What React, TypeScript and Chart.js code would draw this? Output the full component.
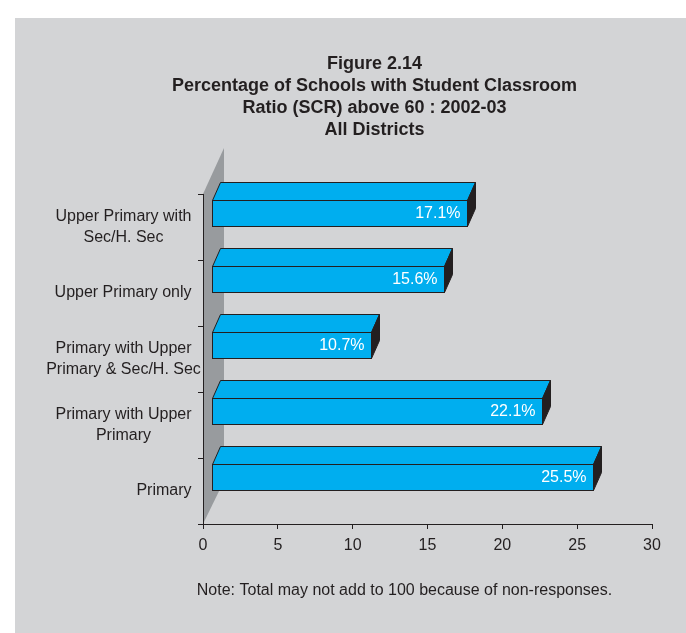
import React, { useEffect, useRef } from "react";
import { Chart, registerables } from "chart.js";

Chart.register(...registerables);

// ---- data ----
const categories: string[][] = [
  ["Upper Primary with", "Sec/H. Sec"],
  ["Upper Primary only"],
  ["Primary with Upper", "Primary & Sec/H. Sec"],
  ["Primary with Upper", "Primary"],
  ["Primary"],
];
const values: number[] = [17.1, 15.6, 10.7, 22.1, 25.5];
const valueLabels: string[] = ["17.1%", "15.6%", "10.7%", "22.1%", "25.5%"];
const xMin = 0;
const xMax = 30;
const xStep = 5;
const titleLines: string[] = [
  "Figure 2.14",
  "Percentage of Schools with Student Classroom",
  "Ratio (SCR) above 60 : 2002-03",
  "All Districts",
];
const noteText = "Note: Total may not add to 100 because of non-responses.";

// ---- styles ----
const FONT = "'Liberation Sans', Arial, Helvetica, sans-serif";
const TEXT = "#231f20";
const PANEL = "#d3d4d6";
const WALL = "#989b9e";
const BAR = "#00aeef";
const BAR_SIDE = "#231f20";
const EDGE = "#231f20";

// 3D geometry (pixels)
const FRONT_DX = 8;
const FRONT_DY = -14;
const DEPTH_DX = 8;
const DEPTH_DY = -18;
const WALL_DX = 21;
const WALL_DY_TOP = -46;
const WALL_DY_BOTTOM = -43;

const wallPlugin = {
  id: "wall3d",
  beforeDraw(chart: any) {
    const { ctx, chartArea } = chart;
    const { left, top, bottom } = chartArea;
    ctx.save();
    ctx.fillStyle = WALL;
    ctx.beginPath();
    ctx.moveTo(left, top);
    ctx.lineTo(left + WALL_DX, top + WALL_DY_TOP);
    ctx.lineTo(left + WALL_DX, bottom + WALL_DY_BOTTOM);
    ctx.lineTo(left, bottom);
    ctx.closePath();
    ctx.fill();
    ctx.restore();
  },
};

const barsPlugin = {
  id: "bars3d",
  afterDatasetsDraw(chart: any) {
    const { ctx } = chart;
    const meta = chart.getDatasetMeta(0);
    ctx.save();
    ctx.lineWidth = 1;
    ctx.strokeStyle = EDGE;
    ctx.lineJoin = "miter";
    meta.data.forEach((el: any, i: number) => {
      const p = el.getProps(["x", "y", "base", "height"], true);
      const L = Math.round(p.base + FRONT_DX) + 0.5;
      const R = Math.round(p.x + FRONT_DX) + 0.5;
      const T = Math.round(p.y - p.height / 2 + FRONT_DY) + 0.5;
      const B = Math.round(p.y + p.height / 2 + FRONT_DY) + 0.5;
      // top face
      ctx.fillStyle = BAR;
      ctx.beginPath();
      ctx.moveTo(L, T);
      ctx.lineTo(L + DEPTH_DX, T + DEPTH_DY);
      ctx.lineTo(R + DEPTH_DX, T + DEPTH_DY);
      ctx.lineTo(R, T);
      ctx.closePath();
      ctx.fill();
      ctx.stroke();
      // right face
      ctx.fillStyle = BAR_SIDE;
      ctx.beginPath();
      ctx.moveTo(R, T);
      ctx.lineTo(R + DEPTH_DX, T + DEPTH_DY);
      ctx.lineTo(R + DEPTH_DX, B + DEPTH_DY);
      ctx.lineTo(R, B);
      ctx.closePath();
      ctx.fill();
      ctx.stroke();
      // front face
      ctx.fillStyle = BAR;
      ctx.fillRect(L, T, R - L, B - T);
      ctx.strokeRect(L, T, R - L, B - T);
      // value label
      ctx.fillStyle = "#ffffff";
      ctx.font = `16px ${FONT}`;
      ctx.textAlign = "right";
      ctx.textBaseline = "middle";
      ctx.fillText(valueLabels[i], R - 7, (T + B) / 2 + 0.5);
    });
    ctx.restore();
  },
};

const textPlugin = {
  id: "extraText",
  afterDraw(chart: any) {
    const { ctx, chartArea } = chart;
    const yScale = chart.scales.y;
    ctx.save();
    ctx.fillStyle = TEXT;
    ctx.font = `16px ${FONT}`;
    ctx.textBaseline = "middle";
    ctx.textAlign = "center";
    const right = chartArea.left - 11.5;
    categories.forEach((lines, i) => {
      const cy = yScale.getPixelForValue(i);
      const w0 = ctx.measureText(lines[0]).width;
      const cx = right - w0 / 2;
      const n = lines.length;
      lines.forEach((line, j) => {
        ctx.fillText(line, cx, cy + (j - (n - 1) / 2) * 20.5);
      });
    });
    // note
    ctx.fillText(noteText, 404.5, 591);
    ctx.restore();
  },
};

export default function App() {
  const ref = useRef<HTMLCanvasElement | null>(null);

  useEffect(() => {
    const canvas = ref.current;
    if (!canvas) return;
    const chart = new Chart(canvas, {
      type: "bar",
      data: {
        labels: categories,
        datasets: [
          {
            data: values,
            backgroundColor: "rgba(0,0,0,0)",
            borderWidth: 0,
            barPercentage: 26 / 66,
            categoryPercentage: 1,
          },
        ],
      },
      options: {
        indexAxis: "y",
        responsive: false,
        animation: false,
        devicePixelRatio: 1,
        events: [],
        layout: { padding: { left: 97, right: 34, top: 0, bottom: 0 } },
        plugins: {
          legend: { display: false },
          tooltip: { enabled: false },
          title: {
            display: true,
            text: titleLines,
            color: TEXT,
            font: { family: FONT, size: 18, weight: "bold", lineHeight: 22 / 18 },
            padding: { top: 53, bottom: 53 },
          },
        },
        scales: {
          x: {
            type: "linear",
            min: xMin,
            max: xMax,
            ticks: {
              stepSize: xStep,
              color: TEXT,
              font: { family: FONT, size: 16 },
              padding: 7,
              maxRotation: 0,
            },
            grid: { drawOnChartArea: false, drawTicks: true, tickLength: 5, color: TEXT, offset: false },
            border: { display: true, color: TEXT, width: 1 },
            afterFit: (s: any) => {
              s.height = 109;
            },
          },
          y: {
            type: "category",
            ticks: { display: false },
            grid: { drawOnChartArea: false, drawTicks: true, tickLength: 5, color: TEXT },
            border: { display: true, color: TEXT, width: 1 },
            afterFit: (s: any) => {
              s.width = 106;
            },
          },
        },
      } as any,
      plugins: [wallPlugin, barsPlugin, textPlugin],
    });
    return () => chart.destroy();
  }, []);

  return (
    <div
      style={{
        position: "fixed",
        left: 0,
        top: 0,
        width: 686,
        height: 633,
        background: "#ffffff",
        overflow: "hidden",
      }}
    >
      <div
        style={{
          position: "absolute",
          left: 15,
          top: 18,
          right: 0,
          bottom: 0,
          background: PANEL,
        }}
      />
      <canvas
        ref={ref}
        width={686}
        height={633}
        style={{ position: "absolute", left: 0, top: 0, width: 686, height: 633 }}
      />
    </div>
  );
}
